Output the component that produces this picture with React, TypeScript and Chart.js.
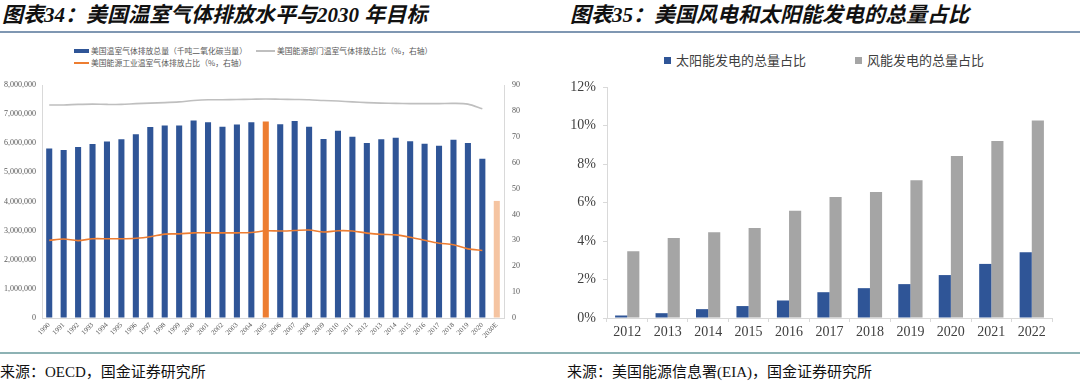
import React, { useEffect, useRef } from 'react';
import { Chart, registerables } from 'chart.js';
Chart.register(...registerables);

// ---------- Left chart data ----------
const years = ['1990','1991','1992','1993','1994','1995','1996','1997','1998','1999','2000','2001','2002','2003','2004','2005','2006','2007','2008','2009','2010','2011','2012','2013','2014','2015','2016','2017','2018','2019','2020','2030E'];
const totalEmissions = [5820000,5770000,5870000,5970000,6060000,6140000,6310000,6560000,6610000,6610000,6780000,6720000,6570000,6640000,6720000,6750000,6650000,6760000,6570000,6150000,6430000,6220000,6010000,6140000,6190000,6070000,5980000,5910000,6120000,6010000,5470000,4020000];
const energySectorShare = [82.3,82.3,82.5,82.6,82.5,82.5,82.8,83.0,83.2,83.5,84.0,84.3,84.3,84.4,84.5,84.6,84.5,84.4,84.3,84.0,83.8,83.5,83.2,83.0,82.9,82.8,82.8,82.8,82.9,82.6,80.8,null];
const energyIndustryShare = [30.0,30.5,29.9,30.6,30.6,30.6,30.8,31.4,32.4,32.5,32.9,32.9,32.9,32.9,33.0,33.7,33.6,33.8,34.0,33.2,33.7,33.6,32.8,32.3,32.1,31.2,30.0,28.9,28.3,26.7,26.1,null];
const leftLegend = ['美国温室气体排放总量（千吨二氧化碳当量）','美国能源部门温室气体排放占比（%，右轴）','美国能源工业温室气体排放占比（%，右轴）'];

// ---------- Right chart data ----------
const renewYears = ['2012','2013','2014','2015','2016','2017','2018','2019','2020','2021','2022'];
const solarShare = [0.13,0.25,0.46,0.62,0.91,1.34,1.55,1.76,2.23,2.81,3.42];
const windShare = [3.47,4.15,4.45,4.67,5.57,6.29,6.55,7.16,8.41,9.19,10.26];
const rightLegend = ['太阳能发电的总量占比','风能发电的总量占比'];

const BLUE = '#2F5597';
const ORANGE = '#ED7D31';
const PEACH = '#F5C4A1';
const GRAY = '#A5A5A5';
const LINEGRAY = '#BFBFBF';
const AXIS = '#D9D9D9';
const TICK = '#595959';
const SERIF = '"Liberation Serif", "Times New Roman", serif';
const CJK = '"Liberation Serif", "Noto Sans CJK SC", serif';

function LeftChart() {
  const ref = useRef<HTMLCanvasElement>(null);
  useEffect(() => {
    const barColors = years.map((y) => (y === '2005' ? ORANGE : y === '2030E' ? PEACH : BLUE));
    const chart = new Chart(ref.current!, {
      type: 'bar',
      data: {
        labels: years,
        datasets: [
          { type: 'line', label: leftLegend[1], data: energySectorShare, yAxisID: 'y1', borderColor: LINEGRAY, borderWidth: 1.6, pointRadius: 0, tension: 0.3, order: 0 },
          { type: 'line', label: leftLegend[2], data: energyIndustryShare, yAxisID: 'y1', borderColor: ORANGE, borderWidth: 1.6, pointRadius: 0, tension: 0.3, order: 0 },
          { type: 'bar', label: leftLegend[0], data: totalEmissions, yAxisID: 'y', backgroundColor: barColors, barPercentage: 0.42, categoryPercentage: 1, order: 1 },
        ] as any,
      },
      options: {
        responsive: false,
        animation: false,
        devicePixelRatio: 1,
        layout: { padding: { top: 15, left: 0, right: 0, bottom: 0 } },
        plugins: { legend: { display: false }, tooltip: { enabled: false } },
        scales: {
          x: {
            grid: { drawOnChartArea: false, drawTicks: false },
            border: { color: AXIS },
            ticks: { autoSkip: false, minRotation: 45, maxRotation: 45, color: TICK, font: { family: SERIF, size: 7 }, padding: 3 },
            afterFit: (s: any) => { s.height = 37; },
          },
          y: {
            position: 'left',
            min: 0, max: 8000000,
            ticks: { stepSize: 1000000, color: TICK, font: { family: SERIF, size: 8 }, padding: 6,
              callback: (v: any) => Number(v).toLocaleString('en-US') },
            grid: { drawOnChartArea: false, drawTicks: false },
            border: { color: AXIS },
            afterFit: (s: any) => { s.width = 42; },
          },
          y1: {
            position: 'right',
            min: 0, max: 90,
            ticks: { stepSize: 10, color: TICK, font: { family: SERIF, size: 8 }, padding: 8 },
            grid: { drawOnChartArea: false, drawTicks: false },
            border: { color: AXIS },
            afterFit: (s: any) => { s.width = 36; },
          },
        },
      } as any,
    });
    return () => chart.destroy();
  }, []);
  return <canvas ref={ref} width={540} height={285} style={{ position: 'absolute', left: 0, top: 70 }} />;
}

function RightChart() {
  const ref = useRef<HTMLCanvasElement>(null);
  useEffect(() => {
    const chart = new Chart(ref.current!, {
      type: 'bar',
      data: {
        labels: renewYears,
        datasets: [
          { label: rightLegend[0], data: solarShare, backgroundColor: BLUE, barPercentage: 1, categoryPercentage: 0.6 },
          { label: rightLegend[1], data: windShare, backgroundColor: GRAY, barPercentage: 1, categoryPercentage: 0.6 },
        ],
      },
      options: {
        responsive: false,
        animation: false,
        devicePixelRatio: 1,
        layout: { padding: { top: 17, left: 0, right: 28, bottom: 0 } },
        plugins: { legend: { display: false }, tooltip: { enabled: false } },
        scales: {
          x: {
            grid: { drawOnChartArea: false, drawTicks: true, tickLength: 4, color: AXIS },
            border: { color: AXIS },
            ticks: { color: '#404040', font: { family: SERIF, size: 14 }, padding: 2, maxRotation: 0 },
            afterFit: (s: any) => { s.height = 37; },
          },
          y: {
            min: 0, max: 12,
            ticks: { stepSize: 2, color: '#404040', font: { family: SERIF, size: 14 }, padding: 7,
              callback: (v: any) => v + '%' },
            grid: { drawOnChartArea: false, drawTicks: true, tickLength: 4, color: AXIS },
            border: { color: AXIS },
            afterFit: (s: any) => { s.width = 67; },
          },
        },
      } as any,
    });
    return () => chart.destroy();
  }, []);
  return <canvas ref={ref} width={540} height={285} style={{ position: 'absolute', left: 540, top: 70 }} />;
}

const abs = (o: React.CSSProperties): React.CSSProperties => ({ position: 'absolute', whiteSpace: 'nowrap', ...o });

export default function App() {
  const titleStyle: React.CSSProperties = { fontFamily: CJK, fontWeight: 'bold', fontStyle: 'italic', fontSize: 21, lineHeight: '30px', color: '#111' };
  const srcStyle: React.CSSProperties = { fontFamily: CJK, fontSize: 15, lineHeight: '20px', color: '#111' };
  const legL: React.CSSProperties = { fontFamily: '"Noto Sans CJK SC", sans-serif', fontSize: 7.8, lineHeight: '12px', color: TICK };
  const legR: React.CSSProperties = { fontFamily: '"Noto Sans CJK SC", sans-serif', fontSize: 13, lineHeight: '18px', color: '#404040' };
  return (
    <div style={{ position: 'absolute', left: 0, top: 0, width: 1080, height: 381, background: '#fff', overflow: 'hidden' }}>
      <div style={abs({ left: 2, top: 0, ...titleStyle })}>图表34：美国温室气体排放水平与2030 年目标</div>
      <div style={abs({ left: 570, top: 0, ...titleStyle })}>图表35：美国风电和太阳能发电的总量占比</div>
      <div style={abs({ left: 0, top: 31, width: 1080, height: 1.5, background: '#7F97B2' })} />
      <div style={abs({ left: 0, top: 352, width: 1080, height: 2, background: '#8DB2B4' })} />
      <div style={abs({ left: 0, top: 362, ...srcStyle })}>来源：OECD，国金证券研究所</div>
      <div style={abs({ left: 567, top: 362, ...srcStyle })}>来源：美国能源信息署(EIA)，国金证券研究所</div>

      {/* left legend */}
      <div style={abs({ left: 74, top: 49, width: 15, height: 4, background: BLUE })} />
      <div style={abs({ left: 91, top: 45, ...legL })}>{leftLegend[0]}</div>
      <div style={abs({ left: 256, top: 50, width: 19, height: 1.5, background: LINEGRAY })} />
      <div style={abs({ left: 277, top: 45, ...legL })}>{leftLegend[1]}</div>
      <div style={abs({ left: 74, top: 62, width: 15, height: 1.5, background: ORANGE })} />
      <div style={abs({ left: 91, top: 57, ...legL })}>{leftLegend[2]}</div>

      {/* right legend */}
      <div style={abs({ left: 664, top: 57, width: 7, height: 7, background: BLUE })} />
      <div style={abs({ left: 676, top: 51, ...legR })}>{rightLegend[0]}</div>
      <div style={abs({ left: 855, top: 57, width: 7, height: 7, background: GRAY })} />
      <div style={abs({ left: 867, top: 51, ...legR })}>{rightLegend[1]}</div>

      <LeftChart />
      <RightChart />
    </div>
  );
}
